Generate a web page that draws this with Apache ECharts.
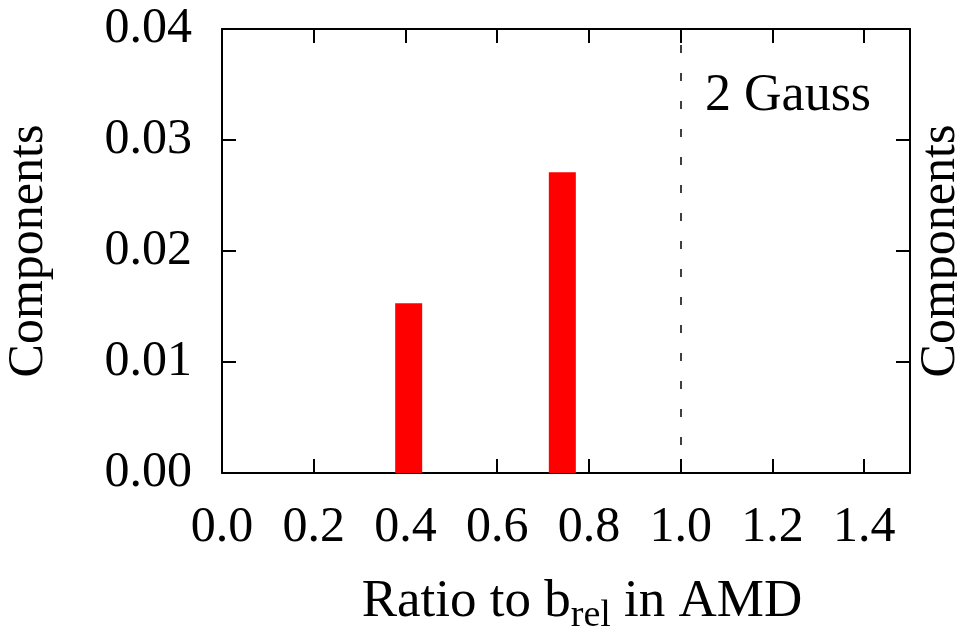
<!DOCTYPE html>
<html>
<head>
<meta charset="utf-8">
<script src="https://cdn.jsdelivr.net/npm/echarts@6/dist/echarts.min.js"></script>
<style>
  html, body { margin: 0; padding: 0; background: #fff; }
  #main { width: 957px; height: 627px; }
</style>
</head>
<body>
<div id="main"></div>
<script>
  // ratio to b_rel (x) and component weight (y)
  var ratios = [0.407, 0.742];
  var weights = [0.0153, 0.0271];
  var xTicks = [0.0, 0.2, 0.4, 0.6, 0.8, 1.0, 1.2, 1.4];
  var yTicks = [0.00, 0.01, 0.02, 0.03, 0.04];
  var refLine = 1.0;

  var font = 'Liberation Serif';
  var chart = echarts.init(document.getElementById('main'));

  var barData = ratios.map(function (r, i) { return [r, weights[i]]; });

  var axisLine = { show: true, onZero: false, lineStyle: { color: '#000', width: 2 } };
  var tickIn = { show: true, inside: true, length: 14, lineStyle: { color: '#000', width: 2 } };

  chart.setOption({
    animation: false,
    grid: { left: 222, top: 29, right: 47, bottom: 154, outerBoundsMode: 'none', containLabel: false },
    xAxis: [{
      type: 'value',
      min: 0, max: 1.5, interval: 0.2,
      axisLine: axisLine,
      axisTick: tickIn,
      splitLine: { show: false },
      axisLabel: {
        showMaxLabel: false,
        margin: 30,
        fontFamily: font, fontSize: 50, color: '#000',
        formatter: function (v) { return v.toFixed(1); }
      },
      name: '{n|Ratio to b}{s|rel}{n| in AMD}',
      nameLocation: 'middle',
      nameGap: 96,
      nameTextStyle: {
        padding: [0, 0, 0, 32],
        rich: {
          n: { fontFamily: font, fontSize: 53, color: '#000' },
          s: { fontFamily: font, fontSize: 38, color: '#000', padding: [28, 0, 0, 0] }
        }
      }
    }, {
      type: 'value', position: 'top',
      min: 0, max: 1.5, interval: 0.2,
      axisLine: axisLine, axisTick: tickIn,
      axisLabel: { show: false }, splitLine: { show: false }
    }],
    yAxis: [{
      type: 'value',
      min: 0, max: 0.04, interval: 0.01,
      axisLine: axisLine,
      axisTick: tickIn,
      splitLine: { show: false },
      axisLabel: {
        margin: 30,
        fontFamily: font, fontSize: 50, color: '#000',
        formatter: function (v) { return v.toFixed(2); }
      },
      name: 'Components',
      nameLocation: 'middle',
      nameGap: 168,
      nameTextStyle: { fontFamily: font, fontSize: 50, color: '#000' }
    }, {
      type: 'value', position: 'right',
      min: 0, max: 0.04, interval: 0.01,
      axisLine: axisLine, axisTick: tickIn,
      axisLabel: { show: false }, splitLine: { show: false },
      name: 'Components',
      nameLocation: 'middle',
      nameGap: 6,
      nameTextStyle: { fontFamily: font, fontSize: 50, color: '#000' }
    }],
    graphic: [{
      type: 'text', left: 705, top: 70,
      style: { text: '2 Gauss', font: '52px "Liberation Serif"', fill: '#000' }
    }],
    series: [{
      type: 'bar',
      data: barData,
      barWidth: 27,
      itemStyle: { color: '#ff0000' },
      markLine: {
        silent: true,
        symbol: 'none',
        label: { show: false },
        lineStyle: { color: '#000', type: [8, 20], width: 1.5 },
        data: [{ xAxis: refLine }]
      }
    }]
  });
</script>
</body>
</html>
